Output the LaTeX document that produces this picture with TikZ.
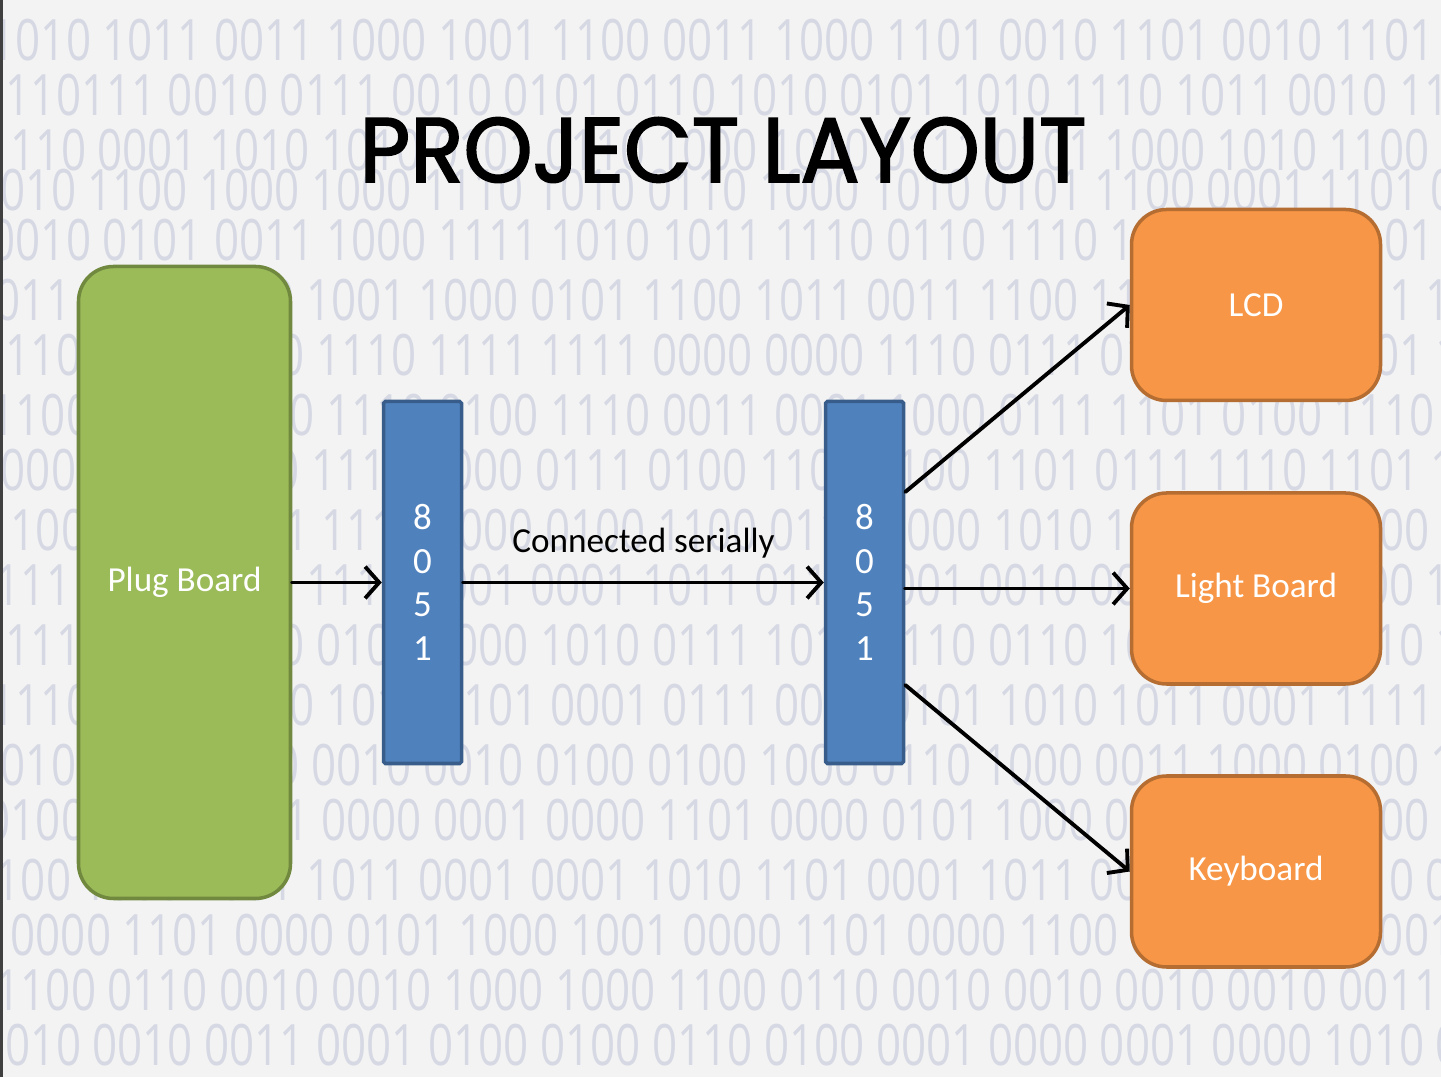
\documentclass[tikz,border=0pt]{standalone}
\usepackage{fontspec}
\usepackage{graphicx}
\setmainfont{Carlito}
\newfontfamily\titlefont{Poppins}[FakeBold=2,FakeStretch=0.96]
\newfontfamily\bitsfont{Open Sans}
\usetikzlibrary{arrows.meta,positioning,calc}
\definecolor{paper}{RGB}{243,243,243}
\definecolor{bitgray}{RGB}{214,217,228}
\definecolor{boardgreen}{RGB}{155,187,89}
\definecolor{boardgreenline}{RGB}{113,137,63}
\definecolor{chipblue}{RGB}{79,129,189}
\definecolor{chipblueline}{RGB}{56,93,138}
\definecolor{devorange}{RGB}{247,150,70}
\definecolor{devorangeline}{RGB}{182,109,49}

\begin{document}
\begin{tikzpicture}[
    board/.style={draw=boardgreenline, fill=boardgreen, line width=1pt, rounded corners=0.35cm, minimum width=2.12cm, minimum height=6.32cm, text=white, font=\fontsize{10}{12}\selectfont},
    chip/.style={draw=chipblueline, fill=chipblue, line width=1pt, rounded corners=0.5pt, minimum width=0.78cm, minimum height=3.62cm, text=white, align=center, font=\fontsize{10.5}{12.4}\selectfont},
    device/.style={draw=devorangeline, fill=devorange, line width=1pt, rounded corners=0.35cm, minimum width=2.49cm, minimum height=1.91cm, text=white, font=\fontsize{10}{12}\selectfont},
    arrow/.style={-{Straight Barb[length=4pt,width=9pt]}, line width=1.1pt, line cap=round},
    bits/.style={anchor=west, inner sep=0pt, text=bitgray, font=\bitsfont\fontsize{12.5}{12.5}\selectfont}
]
    \useasboundingbox (0,0) rectangle (14.41,10.77);

    % Background with binary digits
    \fill[paper] (0,0) rectangle (14.41,10.77);
    \begin{scope}
        \clip (0,0) rectangle (14.41,10.77);
        \foreach \y/\x/\digits in {
            10.37/-0.1/{1010 1011 0011 1000 1001 1100 0011 1000 1101 0010 1101 0010 1101 0111 0110 0100 1000},
            9.82/-0.2/{0110111 0010 0111 0010 0101 0110 1010 0101 1010 1110 1011 0010 1110 1001 1101 0},
            9.27/-0.15/{1110 0001 1010 1010 0101 0110 1000 1010 0111 0101 1000 1010 1100 1111},
            8.87/-0.25/{0010 1100 1000 1000 1110 1010 0110 1000 1010 0101 1100 0001 1101 0101 000},
            8.37/-0.1/{0010 0101 0011 1000 1111 1010 1011 1110 0110 1110 1101 0010 0101 1101 1000},
            7.77/-0.3/{1011 0111 0110 1001 1000 0101 1100 1011 0011 1100 1110 1100 1011 1101},
            7.22/-0.2/{0110 0101 0000 1110 1111 1111 0000 0000 1110 0111 0111 0110 0001 1010},
            6.62/-0.1/{1100 1100 0100 1110 0100 1110 0011 0001 1000 0111 1101 0100 1110 1100 111},
            6.07/-0.25/{1000 1101 1100 1110 1000 0111 0100 1100 0100 1101 0111 1110 1101 1100 1},
            5.47/-0.15/{1100 0110 1001 1110 0000 0100 1100 0110 1000 1010 1010 1100 0100 1000},
            4.92/-0.3/{0111 0100 0110 1111 1001 0001 1011 0110 1001 0010 0011 1101 1000 1001 0},
            4.32/-0.2/{0111 1100 1100 0100 1000 1010 0111 1011 0110 0110 1001 0111 0010 1011},
            3.72/-0.1/{1110 1000 1010 1010 0101 0001 0111 0011 0101 1010 1011 0001 1111 1011 101},
            3.12/-0.25/{0010 1011 0110 0010 0010 0100 0100 1000 0110 1000 0011 1000 0100 1},
            2.57/-0.15/{0100 1000 1101 0000 0001 0000 1101 0000 0101 1000 0110 0011 0000},
            1.97/-0.3/{0100 1000 1001 1011 0001 0001 1010 1101 0001 1011 0001 1000 1010 0101},
            1.42/0.1/{0000 1101 0000 0101 1000 1001 0000 1101 0000 1100 0000 0001 0001 1000},
            0.87/-0.05/{1100 0110 0010 0010 1000 1000 1100 0110 0010 0010 0010 0010 0011 1000},
            0.32/-0.2/{0010 0010 0011 0001 0100 0100 0110 0100 0001 0000 0001 0000 1010 0010 0100}}
            \node[bits] (row\y) at (\x,\y) {\scalebox{1}[1.3]{\digits}};
    \end{scope}
    \fill[black!75] (0,0) rectangle (0.03,10.77);

    % Title
    \node[font=\titlefont\fontsize{26}{26}\selectfont] (title) at (7.23,9.27) {PROJECT LAYOUT};

    % Plug board and the two controllers
    \node[board] (plug) at (1.845,4.945) {Plug Board};
    \node[chip] (chipA) at (4.225,4.945) {8\\0\\5\\1};
    \node[chip] (chipB) at (8.645,4.945) {8\\0\\5\\1};

    % Devices
    \node[device] (lcd) at (12.56,7.72) {LCD};
    \node[device] (light) at (12.56,4.885) {Light Board};
    \node[device] (keyb) at (12.56,2.055) {Keyboard};

    % Arrows
    \draw[arrow] (plug) -- (chipA);
    \draw[arrow] (chipA) -- node[above=0.11cm, font=\fontsize{10}{12}\selectfont] (serial) {Connected serially} (chipB);
    \draw[arrow] ([yshift=0.905cm]chipB.east) -- (lcd.west);
    \draw[arrow] (chipB.east |- light.west) -- (light.west);
    \draw[arrow] ([yshift=-1.025cm]chipB.east) -- (keyb.west);
\end{tikzpicture}
\end{document}
